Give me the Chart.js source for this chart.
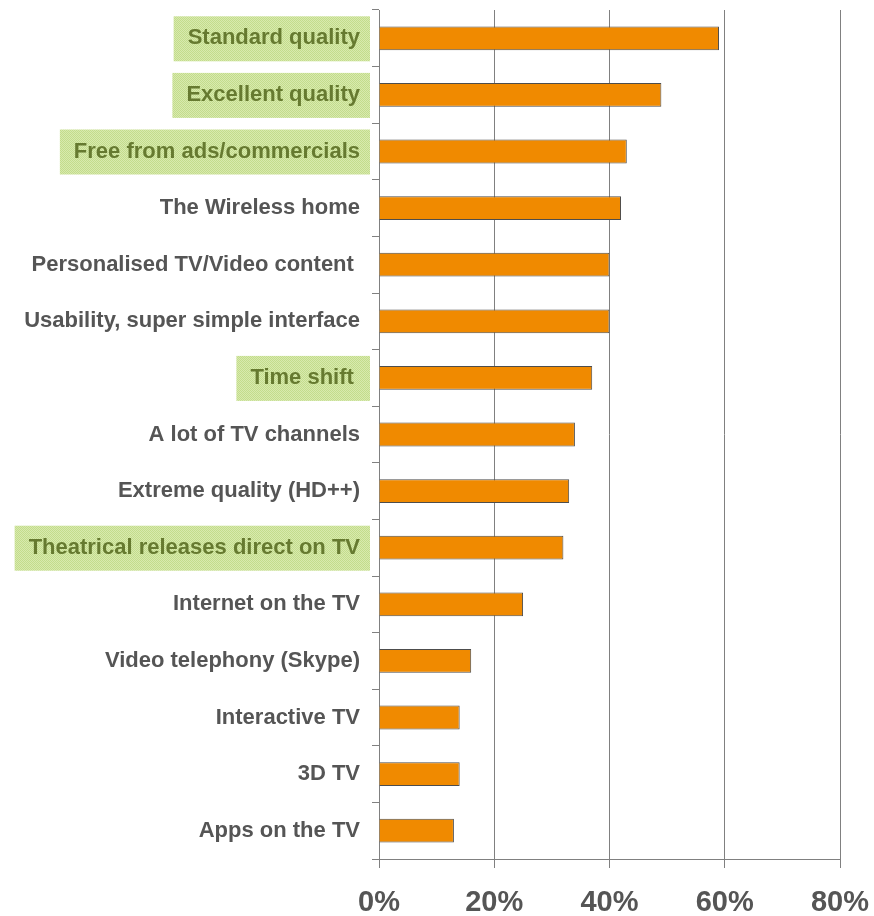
<!DOCTYPE html>
<html>
<head>
<meta charset="utf-8">
<script src="https://cdn.jsdelivr.net/npm/chart.js@4.4.0/dist/chart.umd.min.js"></script>
<style>
  html, body { margin: 0; padding: 0; background: #fff; }
  #wrap { width: 874px; height: 916px; }
</style>
</head>
<body>
<div id="wrap"><canvas id="chart"></canvas></div>
<script>
// chart data
const categories = [
  'Standard quality',
  'Excellent quality',
  'Free from ads/commercials',
  'The Wireless home',
  'Personalised TV/Video content ',
  'Usability, super simple interface',
  'Time shift ',
  'A lot of TV channels',
  'Extreme quality (HD++)',
  'Theatrical releases direct on TV',
  'Internet on the TV',
  'Video telephony (Skype)',
  'Interactive TV',
  '3D TV',
  'Apps on the TV'
];
const values = [59, 49, 43, 42, 40, 40, 37, 34, 33, 32, 25, 16, 14, 14, 13];
const highlighted = [true, true, true, false, false, false, true, false, false, true, false, false, false, false, false];
const xTicks = [0, 20, 40, 60, 80];

const labelFont = { family: '"Liberation Sans", Arial, sans-serif', size: 22, weight: 'bold' };
const greenText = '#667a30';
const greyText = '#555555';
const axisGrey = '#808080';

// small dotted pattern for the highlighted labels
function makePattern(ctx) {
  const p = document.createElement('canvas');
  p.width = 2; p.height = 2;
  const pc = p.getContext('2d');
  pc.fillStyle = '#d8eaae';
  pc.fillRect(0, 0, 2, 2);
  pc.fillStyle = '#c3dc8c';
  pc.fillRect(0, 0, 1, 1);
  pc.fillRect(1, 1, 1, 1);
  return ctx.createPattern(p, 'repeat');
}

const highlightBoxes = {
  id: 'highlightBoxes',
  beforeDraw(chart) {
    const ctx = chart.ctx;
    const yScale = chart.scales.y;
    ctx.save();
    ctx.font = 'bold ' + labelFont.size + 'px ' + labelFont.family;
    ctx.fillStyle = makePattern(ctx);
    const textRight = yScale.right - 7 - 12;
    categories.forEach((label, i) => {
      if (!highlighted[i]) return;
      const y = yScale.getPixelForTick(i);
      const w = ctx.measureText(label).width;
      const left = textRight - w - 14;
      ctx.fillRect(left, y - 22, 370 - left, 45);
    });
    ctx.restore();
  }
};

const ctx = document.getElementById('chart').getContext('2d');
new Chart(ctx, {
  type: 'bar',
  data: {
    labels: categories,
    datasets: [{
      data: values,
      backgroundColor: '#f08a00',
      borderColor: '#4d4d4d',
      borderWidth: 1,
      barPercentage: 0.42,
      categoryPercentage: 1
    }]
  },
  options: {
    indexAxis: 'y',
    responsive: true,
    maintainAspectRatio: false,
    animation: false,
    layout: { padding: { top: 10, right: 34, bottom: 0, left: 0 } },
    plugins: {
      legend: { display: false },
      tooltip: { enabled: false }
    },
    scales: {
      x: {
        min: 0,
        max: 80,
        afterBuildTicks: scale => { scale.ticks = xTicks.map(v => ({ value: v })); },
        afterFit: scale => {
          scale.height = 57;
          scale.paddingLeft = 0;
          scale.paddingRight = 0;
        },
        grid: {
          color: axisGrey,
          lineWidth: 1,
          tickLength: 9
        },
        border: { color: axisGrey, width: 1 },
        ticks: {
          padding: 18,
          color: greyText,
          font: { family: labelFont.family, size: 29, weight: 'bold' },
          callback: v => v + '%'
        }
      },
      y: {
        afterFit: scale => {
          scale.width = 379;
          scale.paddingTop = 0;
          scale.paddingBottom = 0;
        },
        grid: {
          offset: true,
          drawOnChartArea: false,
          color: axisGrey,
          tickLength: 7
        },
        border: { color: axisGrey, width: 1 },
        ticks: {
          padding: 12,
          font: labelFont,
          color: c => highlighted[c.index] ? greenText : greyText
        }
      }
    }
  },
  plugins: [highlightBoxes]
});
</script>
</body>
</html>
